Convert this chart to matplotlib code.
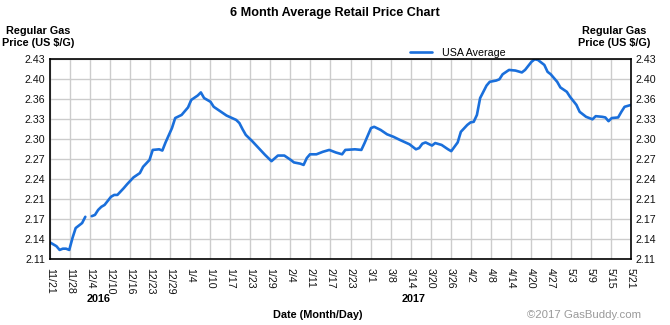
import numpy as np
import pandas as pd
import matplotlib
matplotlib.use("Agg")
import matplotlib.pyplot as plt

plt.rcParams['font.family'] = ['Liberation Sans', 'DejaVu Sans']

# USA average regular gas price, 11/21/2016 - 5/21/2017 (12/3 missing)
dates = [
    "2016-11-21", "2016-11-22", "2016-11-23", "2016-11-24", "2016-11-25", "2016-11-26",
    "2016-11-27", "2016-11-28", "2016-11-29", "2016-12-01", "2016-12-02", "2016-12-03",
    "2016-12-04", "2016-12-05", "2016-12-06", "2016-12-07", "2016-12-08", "2016-12-10",
    "2016-12-11", "2016-12-12", "2016-12-14", "2016-12-15", "2016-12-17", "2016-12-19",
    "2016-12-20", "2016-12-22", "2016-12-23", "2016-12-25", "2016-12-26", "2016-12-27",
    "2016-12-29", "2016-12-30", "2017-01-01", "2017-01-03", "2017-01-04", "2017-01-06",
    "2017-01-07", "2017-01-08", "2017-01-10", "2017-01-11", "2017-01-13", "2017-01-15",
    "2017-01-18", "2017-01-19", "2017-01-20", "2017-01-21", "2017-01-23", "2017-01-25",
    "2017-01-27", "2017-01-29", "2017-01-31", "2017-02-02", "2017-02-04", "2017-02-05",
    "2017-02-07", "2017-02-08", "2017-02-09", "2017-02-10", "2017-02-12", "2017-02-14",
    "2017-02-16", "2017-02-18", "2017-02-20", "2017-02-21", "2017-02-24", "2017-02-26",
    "2017-02-27", "2017-03-01", "2017-03-02", "2017-03-04", "2017-03-06", "2017-03-08",
    "2017-03-10", "2017-03-13", "2017-03-15", "2017-03-16", "2017-03-17", "2017-03-18",
    "2017-03-20", "2017-03-21", "2017-03-23", "2017-03-25", "2017-03-26", "2017-03-28",
    "2017-03-29", "2017-03-31", "2017-04-01", "2017-04-02", "2017-04-03", "2017-04-04",
    "2017-04-06", "2017-04-07", "2017-04-09", "2017-04-10", "2017-04-11", "2017-04-13",
    "2017-04-15", "2017-04-17", "2017-04-18", "2017-04-20", "2017-04-21", "2017-04-22",
    "2017-04-24", "2017-04-25", "2017-04-26", "2017-04-28", "2017-04-29", "2017-05-01",
    "2017-05-02", "2017-05-04", "2017-05-05", "2017-05-07", "2017-05-09", "2017-05-10",
    "2017-05-12", "2017-05-13", "2017-05-14", "2017-05-15", "2017-05-17", "2017-05-18",
    "2017-05-19", "2017-05-21",
]
prices = [
    2.137, 2.134, 2.131, 2.125, 2.127, 2.127,
    2.125, 2.144, 2.160, 2.168, 2.178, np.nan,
    2.179, 2.181, 2.189, 2.194, 2.197, 2.210,
    2.213, 2.213, 2.224, 2.230, 2.241, 2.248,
    2.258, 2.269, 2.285, 2.286, 2.284, 2.297,
    2.320, 2.336, 2.341, 2.353, 2.365, 2.372,
    2.377, 2.368, 2.362, 2.354, 2.347, 2.340,
    2.333, 2.328, 2.318, 2.309, 2.299, 2.288,
    2.277, 2.267, 2.276, 2.276, 2.269, 2.265,
    2.263, 2.261, 2.272, 2.278, 2.278, 2.282,
    2.285, 2.281, 2.278, 2.285, 2.286, 2.285,
    2.296, 2.320, 2.322, 2.317, 2.310, 2.306,
    2.301, 2.294, 2.286, 2.288, 2.295, 2.297,
    2.292, 2.296, 2.293, 2.286, 2.283, 2.297,
    2.314, 2.325, 2.329, 2.330, 2.341, 2.368,
    2.388, 2.394, 2.396, 2.398, 2.406, 2.413,
    2.412, 2.409, 2.413, 2.426, 2.430, 2.429,
    2.421, 2.410, 2.406, 2.394, 2.385, 2.378,
    2.370, 2.357, 2.346, 2.338, 2.334, 2.339,
    2.338, 2.337, 2.331, 2.336, 2.337, 2.346,
    2.354, 2.357,
]

x_labels = ["11/21", "11/28", "12/4", "12/10", "12/16", "12/23", "12/29", "1/4", "1/10",
            "1/17", "1/23", "1/29", "2/4", "2/11", "2/17", "2/23", "3/1", "3/8", "3/14",
            "3/20", "3/26", "4/2", "4/8", "4/14", "4/20", "4/27", "5/3", "5/9", "5/15", "5/21"]
y_labels = ["2.11", "2.14", "2.17", "2.21", "2.24", "2.27", "2.30", "2.33", "2.36", "2.40", "2.43"]
y_min, y_max = 2.11, 2.43

d = pd.to_datetime(dates)
days = (d - d[0]).days.values.astype(float)
span = days[-1]

fig = plt.figure(figsize=(6.7, 3.25), dpi=100)
ax = fig.add_axes([50 / 670, 1 - 259.3 / 325, 581 / 670, 200 / 325])

ax.plot(days, prices, color="#1A6FDB", lw=1.9, solid_capstyle="round", label="USA Average")

ax.set_xlim(0, span)
ax.set_ylim(y_min, y_max)
ax.set_xticks(np.linspace(0, span, len(x_labels)))
ax.set_xticklabels(x_labels, rotation=270, ha="center", va="top")
ax.set_yticks(np.linspace(y_min, y_max, len(y_labels)))
ax.set_yticklabels(y_labels)
ax.tick_params(axis="both", length=0, labelsize=7.7, colors="#111111")
ax.tick_params(axis="x", pad=6)
ax.tick_params(axis="y", pad=3.5, labelright=True)
ax.grid(True, color="#cccccc", lw=1)
ax.set_axisbelow(True)
for s in ax.spines.values():
    s.set_linewidth(1.2)
    s.set_color("black")

ax.legend(loc="lower left", bbox_to_anchor=(410 / 670, 1 - 58 / 325), bbox_transform=fig.transFigure,
          frameon=False, fontsize=7.7, handlelength=2.1, handletextpad=0.9, borderaxespad=0, borderpad=0)

fig.text(335 / 670, 1 - 13 / 325, "6 Month Average Retail Price Chart", ha="center", va="center",
         fontsize=9.1, fontweight="bold")
fig.text(38 / 670, 1 - 37 / 325, "Regular Gas\nPrice (US $/G)", ha="center", va="center",
         fontsize=7.8, fontweight="bold", linespacing=1.15)
fig.text(614 / 670, 1 - 37 / 325, "Regular Gas\nPrice (US $/G)", ha="center", va="center",
         fontsize=7.8, fontweight="bold", linespacing=1.15)
fig.text(99 / 670, 1 - 299 / 325, "2016", ha="center", va="center", fontsize=7.8, fontweight="bold")
fig.text(414 / 670, 1 - 299 / 325, "2017", ha="center", va="center", fontsize=7.8, fontweight="bold")
fig.text(318 / 670, 1 - 315 / 325, "Date (Month/Day)", ha="center", va="center",
         fontsize=7.8, fontweight="bold")
fig.text(641 / 670, 1 - 315 / 325, "\u00a92017 GasBuddy.com", ha="right", va="center",
         fontsize=8.2, color="#999999")

fig.savefig("out.png", dpi=100)
